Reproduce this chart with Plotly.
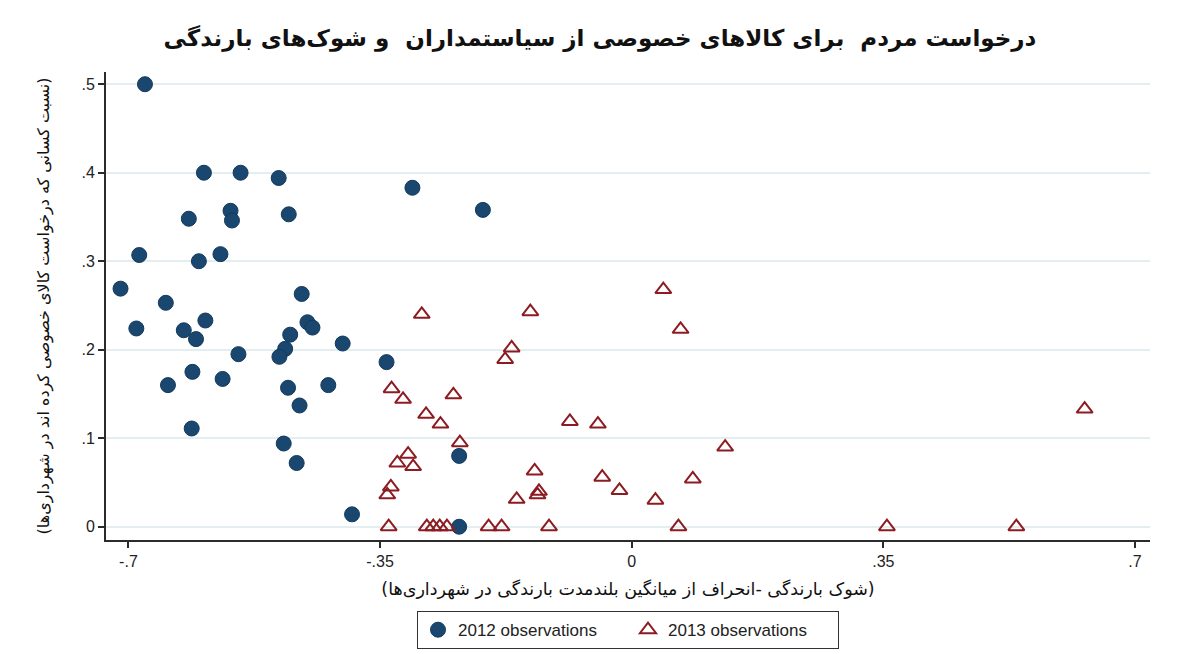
import plotly.graph_objects as go

# ---- data ----
x_2012 = [-0.677, -0.595, -0.544, -0.491, -0.305, -0.207, -0.616, -0.558, -0.556, -0.477,
          -0.685, -0.602, -0.572, -0.711, -0.648, -0.459, -0.689, -0.623, -0.593, -0.606,
          -0.547, -0.451, -0.444, -0.475, -0.482, -0.490, -0.402, -0.341, -0.645, -0.611,
          -0.569, -0.478, -0.422, -0.462, -0.612, -0.484, -0.466, -0.389, -0.240, -0.240]
y_2012 = [0.500, 0.400, 0.400, 0.394, 0.383, 0.358, 0.348, 0.357, 0.346, 0.353,
          0.307, 0.300, 0.308, 0.269, 0.253, 0.263, 0.224, 0.222, 0.233, 0.212,
          0.195, 0.231, 0.225, 0.217, 0.201, 0.192, 0.207, 0.186, 0.160, 0.175,
          0.167, 0.157, 0.160, 0.137, 0.111, 0.094, 0.072, 0.014, 0.080, 0.000]

x_2013 = [0.044, -0.292, -0.141, 0.068, -0.167, -0.176, -0.334, -0.318, -0.248, -0.286,
          -0.266, -0.239, -0.086, -0.047, 0.130, -0.311, -0.326, -0.304, -0.135, -0.041,
          0.085, -0.017, -0.335, -0.340, -0.129, -0.131, -0.160, 0.033, 0.630,
          -0.338, -0.285, -0.276, -0.267, -0.257, -0.199, -0.181, -0.115, 0.065, 0.355, 0.535]
y_2013 = [0.268, 0.240, 0.243, 0.223, 0.202, 0.189, 0.156, 0.144, 0.149, 0.127,
          0.116, 0.095, 0.119, 0.116, 0.090, 0.082, 0.072, 0.068, 0.063, 0.056,
          0.054, 0.041, 0.045, 0.036, 0.040, 0.036, 0.031, 0.030, 0.133,
          0.0, 0.0, 0.0, 0.0, 0.0, 0.0, 0.0, 0.0, 0.0, 0.0, 0.0]

x_tickvals = [-0.7, -0.35, 0, 0.35, 0.7]
x_ticktext = ["-.7", "-.35", "0", ".35", ".7"]
y_tickvals = [0, 0.1, 0.2, 0.3, 0.4, 0.5]
y_ticktext = ["0", ".1", ".2", ".3", ".4", ".5"]

series_names = ["2012 observations", "2013 observations"]

title_text = "درخواست مردم  برای کالاهای خصوصی از سیاستمداران  و شوک\u200cهای بارندگی"
y_title = "(نسبت کسانی که درخواست کالای خصوصی کرده اند در شهرداری\u200cها)"
x_title = "(شوک بارندگی -انحراف از میانگین بلندمدت بارندگی در شهرداری\u200cها)"

NAVY = "#1a476f"
MAROON = "#8c1c22"
AXIS = "#2b2b2b"
GRID = "#e3eef0"
FA_FONT = "DejaVu Sans"
LAT_FONT = "Liberation Sans, Arial, sans-serif"

fig = go.Figure()
fig.add_trace(go.Scatter(
    x=x_2012, y=y_2012, mode="markers", name=series_names[0],
    marker=dict(symbol="circle", size=15, color=NAVY,
                line=dict(color="#15395a", width=1)),
))
fig.add_trace(go.Scatter(
    x=x_2013, y=y_2013, mode="markers", name=series_names[1],
    marker=dict(symbol="triangle-up-open", size=14, color=MAROON,
                line=dict(color=MAROON, width=2)),
))

fig.update_layout(
    width=1200, height=654,
    margin=dict(l=106, r=50, t=72, b=114, autoexpand=False),
    paper_bgcolor="white", plot_bgcolor="white",
    title=dict(text=title_text, x=0.5, xanchor="center", y=1 - 38 / 654, yanchor="middle",
               font=dict(family=FA_FONT, size=23, color="#111111", weight="bold")),
    showlegend=True,
    legend=dict(orientation="h", x=0.5, xanchor="center", y=-0.152, yanchor="top",
                bordercolor="#333333", borderwidth=1, bgcolor="white",
                font=dict(family=LAT_FONT, size=17, color="#222222"),
                entrywidth=165, traceorder="normal"),
)

fig.update_xaxes(
    range=[-0.7312, 0.7209], tickvals=x_tickvals, ticktext=x_ticktext,
    showgrid=False, zeroline=False, showline=True, linecolor=AXIS, linewidth=2,
    ticks="outside", ticklen=6, tickwidth=2, tickcolor=AXIS,
    tickfont=dict(family=LAT_FONT, size=16, color="#222222"),
    title=dict(text=x_title, standoff=14,
               font=dict(family=FA_FONT, size=17.5, color="#111111")),
)
fig.update_yaxes(
    range=[-0.0150, 0.5138], tickvals=y_tickvals, ticktext=y_ticktext,
    showgrid=True, gridcolor=GRID, gridwidth=1.5, zeroline=False,
    showline=True, linecolor=AXIS, linewidth=2,
    ticks="outside", ticklen=6, tickwidth=2, tickcolor=AXIS,
    tickfont=dict(family=LAT_FONT, size=16, color="#222222"),
    title=dict(text=y_title, standoff=28,
               font=dict(family=FA_FONT, size=16, color="#111111")),
)

fig.write_html("out.html")
